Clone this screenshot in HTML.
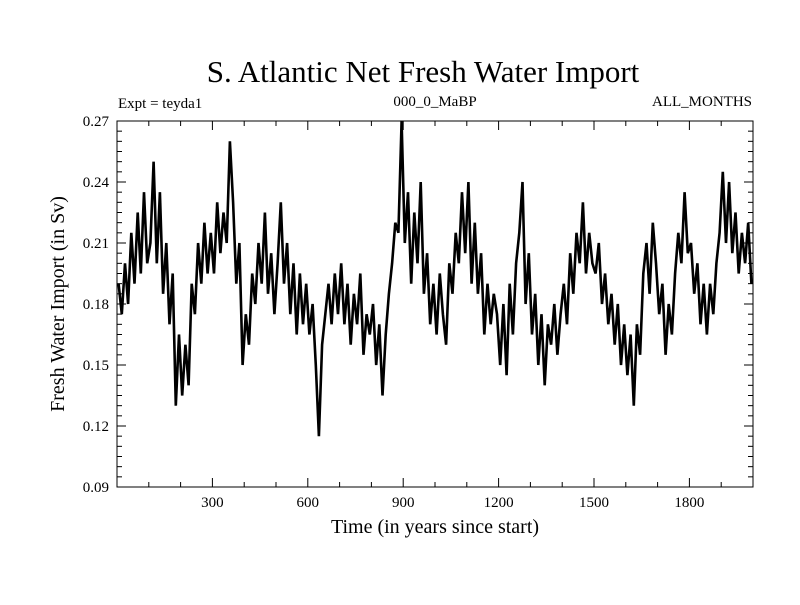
<!DOCTYPE html>
<html><head><meta charset="utf-8"><style>
body{margin:0;background:#fff}
svg text{font-family:"Liberation Serif",serif;fill:#000}
</style></head><body>
<svg id="c" width="800" height="600" xmlns="http://www.w3.org/2000/svg">
<text x="423" y="82" font-size="31" text-anchor="middle">S. Atlantic Net Fresh Water Import</text>
<text x="118" y="108" font-size="15">Expt = teyda1</text>
<text x="435" y="106" font-size="15" text-anchor="middle">000_0_MaBP</text>
<text x="752" y="106" font-size="15" text-anchor="end">ALL_MONTHS</text>
<text x="435" y="533" font-size="20" text-anchor="middle">Time (in years since start)</text>
<text transform="translate(64,304) rotate(-90)" font-size="20" text-anchor="middle">Fresh Water Import (in Sv)</text>
<g id="ticks"></g>
<path id="line" fill="none" stroke="#000" stroke-width="2.6" stroke-linejoin="miter"/>
<rect x="117" y="121" width="636" height="366" fill="none" stroke="#000" stroke-width="1"/>
</svg>
<script>
const values=[
.19,.175,.20,.18,.215,.19,.225,.195,.235,.20,
.21,.25,.20,.235,.185,.21,.17,.195,.13,.165,
.135,.16,.14,.19,.175,.21,.19,.22,.195,.215,
.195,.23,.205,.225,.21,.26,.23,.19,.21,.15,
.175,.16,.195,.18,.21,.19,.225,.185,.205,.175,
.20,.23,.19,.21,.175,.20,.165,.195,.17,.19,
.165,.18,.15,.115,.16,.175,.19,.17,.195,.175,
.20,.17,.19,.16,.185,.17,.195,.155,.175,.165,
.18,.15,.17,.135,.165,.185,.20,.22,.215,.27,
.21,.235,.19,.225,.20,.24,.185,.205,.17,.19,
.165,.195,.175,.16,.20,.185,.215,.20,.235,.205,
.24,.19,.22,.185,.205,.165,.19,.17,.185,.175,
.15,.18,.145,.19,.165,.20,.215,.24,.18,.205,
.165,.185,.15,.175,.14,.17,.16,.18,.155,.175,
.19,.17,.205,.185,.215,.20,.23,.195,.215,.20,
.195,.21,.18,.195,.17,.185,.16,.18,.15,.17,
.145,.165,.13,.17,.155,.195,.21,.185,.22,.20,
.175,.19,.155,.18,.165,.195,.215,.20,.235,.205,
.21,.185,.20,.17,.19,.165,.19,.175,.20,.215,
.245,.21,.24,.205,.225,.195,.215,.20,.22,.19];
const yearStep=10;
const xTicks=[300,600,900,1200,1500,1800];
const yTicks=[0.09,0.12,0.15,0.18,0.21,0.24,0.27];
const X0=117,X1=753,Y0=487,Y1=121,xMin=0,xMax=2000,yMin=0.09,yMax=0.27;
const sx=v=>X0+(v-xMin)/(xMax-xMin)*(X1-X0);
const sy=v=>Y0-(v-yMin)/(yMax-yMin)*(Y0-Y1);
const NS="http://www.w3.org/2000/svg";
const svg=document.getElementById('c'),g=document.getElementById('ticks');
function ln(x1,y1,x2,y2,name){const l=document.createElementNS(NS,'line');
l.setAttribute('x1',x1);l.setAttribute('y1',y1);l.setAttribute('x2',x2);l.setAttribute('y2',y2);
l.setAttribute('stroke','#000');l.setAttribute('stroke-width','1');


g.appendChild(l);}
for(let yr=100;yr<xMax;yr+=100){const x=sx(yr),L=(yr%300===0)?9:5;
ln(x,Y0,x,Y0-L,'x-tick');ln(x,Y1,x,Y1+L,'x-tick-top');}
for(let k=1;k<36;k++){const v=yMin+k*0.005,y=sy(v),L=(k%6===0)?9:5;
ln(X0,y,X0+L,y,'y-tick');ln(X1,y,X1-L,y,'y-tick-right');}
xTicks.forEach(t=>{const e=document.createElementNS(NS,'text');e.setAttribute('x',sx(t));e.setAttribute('y',507);
e.setAttribute('font-size','15');e.setAttribute('text-anchor','middle');e.textContent=t;


svg.appendChild(e);});
yTicks.forEach(t=>{const e=document.createElementNS(NS,'text');e.setAttribute('x',109);e.setAttribute('y',sy(t)+5);
e.setAttribute('font-size','15');e.setAttribute('text-anchor','end');e.textContent=t.toFixed(2);


svg.appendChild(e);});
let d='';values.forEach((v,i)=>{d+=(i?'L':'M')+sx(i*yearStep+5).toFixed(1)+','+sy(v).toFixed(1);});
document.getElementById('line').setAttribute('d',d);
</script>
</body></html>
